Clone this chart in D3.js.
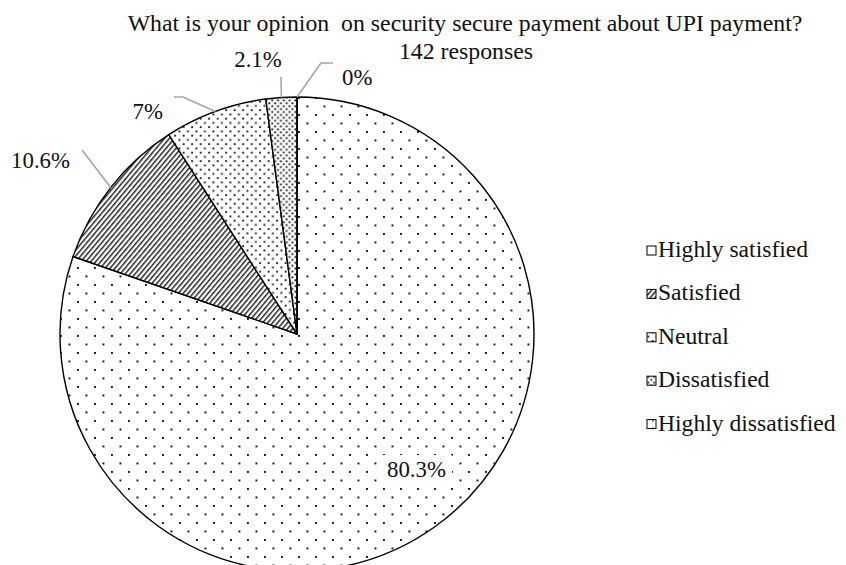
<!DOCTYPE html>
<html>
<head>
<meta charset="utf-8">
<script src="https://cdn.jsdelivr.net/npm/d3@7"></script>
<style>
  body { margin: 0; background: #fff; }
  svg { display: block; }
  text { font-family: "Liberation Serif", "Times New Roman", Times, serif; fill: #111; }
</style>
</head>
<body>
<script>
// Survey answers and their shares (percent of 142 responses)
const categories = ["Highly satisfied", "Satisfied", "Neutral", "Dissatisfied", "Highly dissatisfied"];
const percentages = [80.3, 10.6, 7, 2.1, 0];
const valueLabels = ["80.3%", "10.6%", "7%", "2.1%", "0%"];
const titleText = "What is your opinion  on security secure payment about UPI payment?";
const subtitleText = "142 responses";

// Layout
const W = 846, H = 565;
const cx = 297, cy = 334, R = 237;

// Label placement relative to the pie centre: text anchor, alignment, leader path points
const labelLayout = [
  { text: [119.5, 143], anchor: "middle", leader: [], boxed: true },
  { text: [-227, -166], anchor: "end", leader: [[-215, -184]] },
  { text: [-134, -215], anchor: "end", leader: [[-114, -237], [-123, -237]] },
  { text: [-39, -267], anchor: "middle", leader: [[-16, -257]] },
  { text: [45, -249], anchor: "start", leader: [[24, -271], [36, -271]] }
];

const svg = d3.select("body").append("svg")
  .attr("width", W).attr("height", H);

// Fill patterns for each slice
const defs = svg.append("defs");
function dotPattern(id, w, h, pts, s) {
  const p = defs.append("pattern").attr("id", id)
    .attr("patternUnits", "userSpaceOnUse")
    .attr("width", w).attr("height", h);
  p.append("rect").attr("width", w).attr("height", h).attr("fill", "#fff");
  pts.forEach(([x, y]) => {
    p.append("rect").attr("x", x).attr("y", y).attr("width", s).attr("height", s).attr("fill", "#111");
  });
}
dotPattern("pat0", 17, 17, [[1, 1], [9.5, 9.5]], 1.9);
(function () {
  const p = defs.append("pattern").attr("id", "pat1")
    .attr("patternUnits", "userSpaceOnUse")
    .attr("width", 3.8).attr("height", 10)
    .attr("patternTransform", "rotate(40)");
  p.append("rect").attr("width", 3.8).attr("height", 10).attr("fill", "#fff");
  p.append("rect").attr("width", 1.4).attr("height", 10).attr("fill", "#1a1a1a");
})();
dotPattern("pat2", 8.5, 8.5, [[0.5, 0.5], [4.75, 4.75]], 1.8);
dotPattern("pat3", 5.8, 5.8, [[0.4, 0.4], [3.3, 3.3]], 1.8);
dotPattern("pat4", 8, 8, [[5, 5]], 1.6);

const color = d3.scaleOrdinal()
  .domain(categories)
  .range(categories.map((c, i) => `url(#pat${i})`));

const pie = d3.pie().sort(null).value(d => d).startAngle(0).endAngle(2 * Math.PI);
const arcs = pie(percentages);
const arc = d3.arc().innerRadius(0).outerRadius(R);
const rimArc = d3.arc().innerRadius(R).outerRadius(R);

const g = svg.append("g").attr("transform", `translate(${cx},${cy})`);

g.selectAll("path.slice")
  .data(arcs)
  .join("path")
  .attr("class", "slice")
  .attr("d", arc)
  .attr("fill", (d, i) => color(categories[i]))
  .attr("stroke", "#000")
  .attr("stroke-width", 1.4)
  .attr("stroke-linejoin", "round");

// Leader lines from slice rim to the labels
const line = d3.line();
g.selectAll("path.leader")
  .data(arcs.filter((d, i) => labelLayout[i].leader.length))
  .join("path")
  .attr("class", "leader")
  .attr("d", d => line([rimArc.centroid(d), ...labelLayout[d.index].leader]))
  .attr("fill", "none")
  .attr("stroke", "#a6a6a6")
  .attr("stroke-width", 1.6);

const labels = g.selectAll("g.value")
  .data(arcs)
  .join("g")
  .attr("class", "value");
const labelText = labels.append("text")
  .attr("x", d => labelLayout[d.index].text[0])
  .attr("y", d => labelLayout[d.index].text[1])
  .attr("text-anchor", d => labelLayout[d.index].anchor)
  .style("font-size", "22.8px")
  .text((d, i) => valueLabels[i]);
// White backing behind labels drawn inside a slice
labelText.each(function (d) {
  if (!labelLayout[d.index].boxed) return;
  const b = this.getBBox();
  d3.select(this.parentNode).insert("rect", "text")
    .attr("x", b.x - 6).attr("y", b.y - 2)
    .attr("width", b.width + 12).attr("height", b.height + 4)
    .attr("fill", "#fff");
});

// Title
svg.append("text")
  .attr("x", 465).attr("y", 31)
  .attr("text-anchor", "middle")
  .style("font-size", "23.8px")
  .style("white-space", "pre")
  .text(titleText);
svg.append("text")
  .attr("x", 466).attr("y", 59)
  .attr("text-anchor", "middle")
  .style("font-size", "23.8px")
  .text(subtitleText);

// Legend
const legend = svg.append("g").attr("transform", "translate(647,257)");
const rows = legend.selectAll("g")
  .data(categories)
  .join("g")
  .attr("transform", (d, i) => `translate(0,${i * 43.4})`);
rows.append("rect")
  .attr("x", 0).attr("y", -11)
  .attr("width", 9).attr("height", 9)
  .attr("fill", d => color(d))
  .attr("stroke", "#000")
  .attr("stroke-width", 1);
rows.append("text")
  .attr("x", 11).attr("y", 0)
  .style("font-size", "23.6px")
  .text(d => d);
</script>
</body>
</html>
